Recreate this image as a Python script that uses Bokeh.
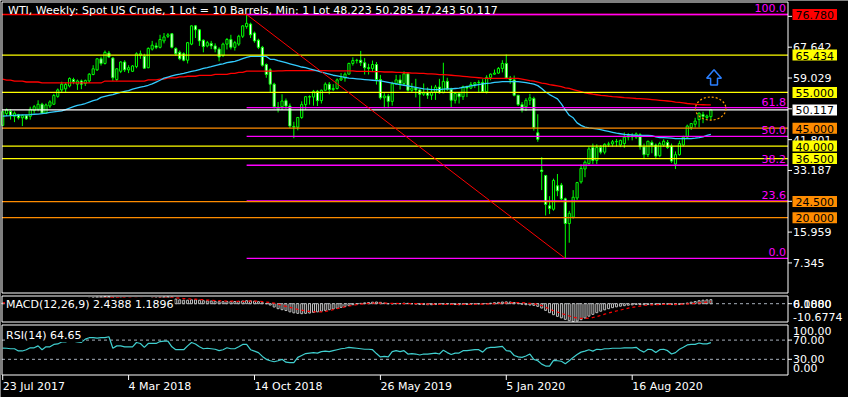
from bokeh.plotting import figure
from bokeh.models import Range1d, Label
from bokeh.embed import file_html
from bokeh.resources import INLINE

# ---------------- data ----------------
TITLE = "WTI, Weekly:  Spot US Crude, 1 Lot = 10 Barrels, Min: 1 Lot  48.223 50.285 47.243 50.117"
tick_idx = [0, 32, 64, 96, 128, 160]
tick_labels = ["23 Jul 2017", "4 Mar 2018", "14 Oct 2018", "26 May 2019", "5 Jan 2020", "16 Aug 2020"]

opens = [45.8, 49.1, 49.7, 48.3, 48.8, 47.9, 48.5, 48.3, 49.9, 50.3,
         51.7, 49.2, 51.2, 51.7, 53.9, 55.7, 56.0, 56.8, 58.6, 57.3,
         58.2, 57.5, 58.2, 60.0, 61.3, 64.4, 63.1, 66.0, 64.6, 58.6,
         60.9, 63.5, 61.3, 60.9, 62.2, 65.4, 65.1, 61.9, 67.1, 68.0,
         67.6, 69.4, 70.7, 71.4, 67.3, 66.2, 65.8, 64.0, 68.5, 73.6,
         72.5, 69.6, 68.0, 68.7, 68.0, 67.1, 65.3, 68.5, 69.8, 67.6,
         68.5, 70.7, 73.4, 74.1, 71.6, 69.6, 67.6, 62.8, 61.3, 57.3,
         50.4, 51.0, 52.7, 51.2, 45.5, 45.3, 48.0, 51.6, 53.8, 53.7,
         55.3, 52.7, 55.6, 57.3, 55.8, 56.1, 58.5, 59.0, 60.1, 63.1,
         63.9, 64.0, 63.3, 61.9, 61.7, 62.8, 58.6, 53.5, 54.0, 52.5,
         57.4, 58.5, 57.5, 60.2, 55.6, 56.2, 55.7, 54.5, 54.9, 54.2,
         55.1, 56.5, 54.9, 58.1, 55.9, 52.8, 54.7, 53.8, 56.6, 56.2,
         57.2, 57.7, 57.8, 55.2, 59.2, 60.1, 60.4, 61.7, 63.1, 59.0,
         58.5, 54.2, 51.6, 51.0, 52.8, 53.3, 43.7, 33.3, 31.8, 23.3,
         22.35, 28.9, 29.1, 25.25, 18.35, 20.15, 25.5, 30.0, 33.6, 35.1,
         39.6, 36.0, 39.6, 38.3, 40.5, 40.6, 41.2, 40.3, 40.7, 42.5,
         42.6, 42.5, 43.2, 39.8, 37.6, 41.0, 40.3, 37.3, 40.3, 41.0,
         40.0, 35.0, 37.6, 40.3, 42.5, 45.2, 46.1, 47.4, 48.8, 48.0, 48.223]
highs = [49.9, 50.5, 50.3, 49.7, 49.0, 48.8, 48.8, 51.0, 51.5, 52.8,
         52.1, 51.9, 52.8, 54.6, 56.1, 58.0, 57.7, 59.2, 59.1, 58.6,
         58.6, 58.6, 60.4, 62.6, 64.6, 65.0, 66.7, 66.6, 64.9, 61.75,
         63.7, 64.0, 62.6, 62.6, 66.2, 66.7, 65.8, 67.6, 69.4, 68.9,
         71.1, 71.6, 71.6, 71.6, 67.6, 66.7, 66.2, 69.1, 73.8, 73.8,
         72.7, 69.8, 69.4, 69.4, 68.7, 67.6, 68.9, 70.2, 71.1, 69.4,
         71.1, 73.8, 76.78, 74.5, 72.0, 70.0, 68.0, 63.1, 61.75, 57.7,
         52.3, 54.5, 53.3, 51.9, 46.8, 48.1, 52.5, 54.0, 54.2, 55.7,
         55.7, 55.8, 57.8, 57.9, 57.3, 58.9, 60.4, 60.6, 63.3, 64.8,
         64.4, 66.6, 64.6, 63.0, 63.9, 63.5, 59.9, 54.8, 54.6, 58.0,
         59.9, 59.9, 60.9, 60.6, 57.6, 58.8, 55.9, 57.5, 56.4, 56.9,
         57.1, 58.8, 63.3, 59.1, 56.3, 54.9, 54.9, 56.9, 56.9, 57.9,
         57.9, 58.4, 58.7, 59.8, 60.3, 61.4, 62.1, 64.0, 65.6, 59.6,
         59.7, 54.3, 52.3, 53.4, 54.6, 53.8, 48.9, 36.9, 31.9, 26.0,
         30.9, 32.2, 29.7, 25.6, 21.9, 27.7, 30.0, 34.9, 36.0, 39.8,
         40.7, 40.5, 40.3, 40.8, 41.2, 41.7, 42.0, 41.8, 43.8, 43.6,
         43.6, 43.8, 43.6, 40.7, 41.5, 41.6, 40.7, 41.2, 41.9, 41.7,
         40.7, 38.5, 41.5, 42.9, 46.0, 46.3, 47.9, 49.4, 49.6, 48.8, 50.285]
lows = [45.6, 48.4, 47.4, 46.7, 47.4, 45.6, 47.3, 47.4, 49.2, 49.7,
        49.0, 49.0, 50.6, 51.5, 53.5, 55.0, 55.0, 56.4, 57.3, 55.7,
        55.9, 56.8, 57.7, 59.8, 61.0, 62.5, 62.8, 64.6, 58.2, 58.2,
        60.4, 60.7, 60.4, 60.7, 61.75, 64.4, 61.6, 61.75, 66.7, 67.1,
        67.3, 68.7, 70.2, 67.3, 65.3, 64.0, 63.7, 63.1, 68.2, 70.2,
        68.0, 66.2, 67.6, 67.1, 66.2, 63.7, 64.9, 67.0, 67.0, 66.7,
        68.0, 70.2, 72.8, 70.2, 68.9, 67.1, 62.2, 59.1, 55.0, 50.5,
        49.4, 50.1, 50.4, 45.0, 42.2, 44.4, 47.6, 50.2, 51.6, 51.3,
        51.2, 51.9, 55.5, 54.5, 55.4, 55.8, 58.2, 58.0, 60.0, 62.5,
        63.1, 62.4, 60.0, 60.0, 60.8, 57.2, 53.0, 50.6, 50.6, 51.3,
        57.1, 55.8, 57.0, 55.2, 55.0, 53.6, 50.5, 54.0, 53.2, 52.9,
        52.9, 54.6, 54.8, 55.4, 50.9, 51.9, 51.9, 52.9, 53.7, 55.9,
        56.2, 55.1, 55.1, 54.7, 58.4, 59.9, 60.2, 60.6, 58.7, 57.4,
        53.9, 51.2, 49.4, 49.8, 51.5, 44.3, 41.2, 27.7, 20.6, 21.0,
        21.95, 26.0, 24.9, 8.6, 13.0, 19.7, 24.9, 29.5, 31.3, 34.9,
        35.0, 35.0, 37.7, 37.7, 39.8, 39.9, 39.9, 39.7, 39.5, 41.6,
        41.6, 42.0, 39.0, 36.6, 36.9, 38.0, 36.6, 36.9, 39.8, 39.2,
        35.3, 33.6, 37.3, 39.9, 42.2, 44.5, 45.2, 45.2, 46.4, 47.5, 47.243]
closes = [49.6, 50.1, 48.6, 49.2, 47.9, 48.5, 47.6, 50.3, 51.0, 51.7,
          49.2, 51.5, 52.35, 54.15, 55.7, 57.3, 57.2, 58.9, 58.0, 58.2,
          57.3, 58.3, 60.1, 61.6, 64.4, 63.1, 66.2, 64.9, 59.1, 61.6,
          63.5, 61.3, 61.9, 62.4, 65.8, 65.8, 61.75, 67.3, 68.2, 67.6,
          69.8, 70.5, 71.1, 67.6, 65.8, 64.4, 64.0, 68.9, 73.6, 72.5,
          69.4, 67.8, 68.9, 68.0, 67.1, 64.9, 68.5, 69.8, 67.6, 68.9,
          70.7, 73.6, 74.3, 71.1, 69.4, 67.6, 62.6, 60.0, 57.3, 51.0,
          50.9, 52.6, 51.2, 45.6, 45.3, 48.0, 51.6, 53.8, 53.7, 55.3,
          52.7, 55.6, 57.3, 55.8, 56.1, 58.5, 59.0, 60.1, 63.1, 63.9,
          64.0, 63.3, 61.9, 61.7, 62.8, 58.6, 53.5, 54.0, 52.5, 57.4,
          58.5, 57.5, 60.2, 55.6, 56.2, 55.7, 54.5, 54.9, 54.2, 55.1,
          56.5, 54.9, 58.1, 55.9, 52.8, 54.7, 53.8, 56.6, 56.2, 57.2,
          57.7, 57.8, 55.2, 59.2, 60.1, 60.4, 61.7, 63.1, 59.0, 58.5,
          54.2, 51.6, 50.3, 52.8, 53.5, 45.2, 41.9, 32.9, 23.7, 22.6,
          30.4, 27.5, 25.25, 18.35, 21.2, 25.7, 29.8, 33.75, 35.5, 39.2,
          36.0, 39.6, 38.3, 40.5, 40.6, 41.2, 41.3, 41.6, 42.5, 42.96,
          42.96, 43.4, 39.8, 37.6, 41.35, 40.1, 37.2, 40.7, 41.35, 39.6,
          35.8, 37.6, 40.7, 42.5, 45.6, 46.3, 47.0, 49.2, 48.3, 48.4, 50.117]

ma_red = [58.72, 58.45, 58.45, 58.18, 58.18, 58.18, 57.91, 57.91, 57.91, 57.91,
          57.64, 57.64, 57.64, 57.64, 57.64, 57.64, 57.64, 57.64, 57.64, 57.64,
          57.64, 57.64, 57.64, 57.64, 57.64, 57.64, 58.18, 58.18, 58.18, 58.18,
          58.18, 58.18, 58.18, 58.18, 58.18, 58.18, 58.18, 58.53, 58.53, 58.53,
          58.72, 58.72, 59.07, 59.07, 59.07, 59.34, 59.34, 59.52, 59.52, 59.52,
          59.79, 59.79, 59.79, 59.79, 60.06, 60.06, 60.06, 60.06, 60.33, 60.33,
          60.6, 60.6, 60.95, 60.95, 60.95, 60.95, 60.95, 60.95, 60.95, 60.95,
          61.0, 61.0, 61.1, 61.1, 61.1, 61.1, 61.1, 61.1, 61.1, 61.1,
          61.1, 61.1, 61.1, 61.0, 61.0, 61.0, 61.0, 61.0, 61.0, 61.0,
          60.9, 60.9, 60.9, 60.9, 60.8, 60.8, 60.8, 60.7, 60.7, 60.7,
          60.6, 60.6, 60.5, 60.5, 60.4, 60.4, 60.3, 60.3, 60.2, 60.2,
          60.1, 60.0, 60.0, 59.9, 59.8, 59.7, 59.6, 59.5, 59.4, 59.3,
          59.2, 59.1, 59.0, 58.95, 58.9, 58.9, 58.9, 58.9, 58.9, 58.9,
          58.9, 58.9, 58.7, 58.5, 58.3, 58.18, 57.9, 57.6, 57.45, 57.2,
          57.0, 56.8, 56.6, 56.3, 56.1, 55.8, 55.5, 55.2, 54.9, 54.7,
          54.5, 54.35, 54.2, 54.1, 53.97, 53.85, 53.75, 53.65, 53.55, 53.5,
          53.4, 53.3, 53.25, 53.2, 53.1, 53.0, 52.9, 52.8, 52.7, 52.6,
          52.5, 52.3, 52.2, 52.05, 51.9, 51.8, 51.7, 51.6, 51.55, 51.5, 51.5]
ma_cyan = [48.35, 48.45, 48.52, 48.6, 48.65, 48.7, 48.75, 48.79, 48.9, 48.95,
           49.06, 49.2, 49.4, 49.55, 49.7, 49.86, 50.2, 50.6, 51.0, 51.4,
           51.6, 51.9, 52.3, 52.7, 53.0, 53.6, 53.9, 54.16, 54.4, 54.7,
           55.0, 55.3, 55.5, 55.9, 56.2, 56.5, 56.7, 57.0, 57.4, 57.9,
           58.4, 59.0, 59.3, 59.6, 59.9, 60.1, 60.33, 60.6, 60.9, 61.1,
           61.4, 61.7, 61.94, 62.2, 62.5, 62.8, 63.0, 63.3, 63.5, 63.7,
           64.0, 64.44, 64.8, 65.05, 65.05, 65.05, 65.05, 65.05, 64.25, 64.25,
           63.9, 63.6, 63.3, 63.0, 62.7, 62.4, 62.1, 61.9, 61.6, 61.3,
           61.0, 60.7, 60.4, 60.1, 59.8, 59.6, 59.4, 59.2, 59.0, 58.9,
           58.8, 58.7, 58.6, 58.5, 58.4, 58.3, 58.2, 58.0, 57.8, 57.6,
           57.4, 57.2, 57.0, 56.8, 56.6, 56.4, 56.2, 56.0, 55.9, 55.8,
           55.8, 55.8, 55.9, 56.0, 56.0, 56.1, 56.2, 56.4, 56.6, 56.8,
           57.0, 57.2, 57.4, 57.5, 57.6, 57.8, 57.9, 58.0, 58.0, 58.0,
           58.0, 58.0, 57.9, 57.73, 57.5, 57.3, 56.9, 56.1, 55.1, 54.4,
           53.8, 53.2, 51.8, 50.1, 48.6, 47.9, 46.5, 45.8, 45.3, 45.1,
           44.95, 44.8, 44.6, 44.35, 44.1, 43.85, 43.6, 43.45, 43.3, 43.2,
           43.1, 43.0, 43.0, 43.0, 43.0, 42.9, 42.6, 42.4, 42.35, 42.3,
           42.2, 42.1, 42.1, 42.1, 42.1, 42.1, 42.2, 42.35, 42.6, 43.0, 43.3]

macd_main = [0.3, 0.3, 0.2, 0.2, 0.1, 0.0, 0.0, 0.1, 0.3, 0.5,
             0.6, 0.8, 1.0, 1.3, 1.6, 2.0, 2.3, 2.6, 2.8, 2.9,
             3.0, 3.1, 3.3, 3.6, 3.9, 4.0, 4.2, 4.2, 3.8, 3.5,
             3.4, 3.2, 3.0, 2.9, 3.0, 3.1, 2.9, 3.1, 3.4, 3.5,
             3.8, 4.0, 4.1, 3.9, 2.8, 2.3, 2.1, 2.1, 2.3, 2.3,
             2.1, 1.8, 1.7, 1.6, 1.4, 1.2, 1.2, 1.3, 1.3, 1.3,
             1.4, 1.6, 1.8, 1.7, 1.5, 1.2, 0.6, 0.0, -0.8, -2.0,
             -3.0, -3.6, -4.1, -4.9, -5.5, -5.8, -6.0, -5.8, -5.6, -5.2,
             -4.9, -4.5, -4.0, -3.6, -3.2, -2.7, -2.2, -1.7, -1.1, -0.6,
             -0.2, 0.2, 0.5, 0.7, 0.9, 1.0, 0.8, 0.4, 0.0, -0.1,
             0.0, 0.1, 0.3, 0.2, 0.0, -0.2, -0.4, -0.5, -0.6, -0.6,
             -0.5, -0.4, -0.2, -0.2, -0.4, -0.5, -0.6, -0.5, -0.4, -0.3,
             -0.2, -0.1, -0.1, 0.1, 0.3, 0.6, 0.8, 1.0, 1.1, 1.0,
             0.7, 0.2, -0.3, -0.6, -0.8, -1.0, -1.6, -2.6, -4.0, -5.4,
             -6.6, -7.6, -8.5, -9.4, -10.2, -10.68, -10.4, -9.6, -8.6, -7.5,
             -6.4, -5.4, -4.5, -3.7, -3.0, -2.4, -1.9, -1.5, -1.2, -0.9,
             -0.7, -0.5, -0.5, -0.6, -0.5, -0.4, -0.5, -0.4, -0.3, -0.3,
             -0.5, -0.6, -0.4, -0.1, 0.4, 0.9, 1.3, 1.8, 2.1, 2.3, 2.4388]
macd_signal = [0.5, 0.45, 0.4, 0.35, 0.3, 0.25, 0.2, 0.2, 0.2, 0.25,
               0.3, 0.4, 0.5, 0.65, 0.8, 1.0, 1.3, 1.5, 1.8, 2.0,
               2.2, 2.4, 2.6, 2.8, 3.0, 3.2, 3.4, 3.6, 3.6, 3.6,
               3.5, 3.5, 3.4, 3.3, 3.2, 3.2, 3.1, 3.1, 3.2, 3.2,
               3.3, 3.4, 3.5, 3.6, 3.5, 3.3, 3.1, 2.9, 2.8, 2.7,
               2.5, 2.4, 2.2, 2.1, 1.9, 1.8, 1.7, 1.6, 1.5, 1.5,
               1.4, 1.4, 1.5, 1.5, 1.5, 1.5, 1.3, 1.0, 0.7, 0.3,
               -0.3, -1.0, -1.6, -2.2, -2.8, -3.4, -3.9, -4.3, -4.6, -4.8,
               -4.9, -4.9, -4.7, -4.2, -3.6, -3.0, -2.4, -1.9, -1.4, -1.0,
               -0.6, -0.3, 0.0, 0.2, 0.3, 0.4, 0.4, 0.35, 0.3, 0.2,
               0.15, 0.1, 0.1, 0.1, 0.1, 0.05, 0.0, -0.1, -0.2, -0.3,
               -0.35, -0.4, -0.4, -0.35, -0.35, -0.4, -0.4, -0.45, -0.45, -0.4,
               -0.35, -0.3, -0.25, -0.2, -0.1, 0.0, 0.2, 0.3, 0.5, 0.6,
               0.7, 0.7, 0.6, 0.4, 0.2, -0.1, -0.5, -1.1, -2.1, -3.3,
               -4.2, -5.0, -5.8, -6.6, -7.4, -8.1, -8.6, -8.8, -8.8, -8.6,
               -8.3, -7.7, -7.0, -6.3, -5.6, -5.0, -4.4, -3.8, -3.2, -2.7,
               -2.2, -1.8, -1.4, -1.1, -0.9, -0.7, -0.6, -0.5, -0.45, -0.4,
               -0.4, -0.4, -0.35, -0.3, -0.15, 0.05, 0.25, 0.5, 0.7, 0.95, 1.1896]
rsi = [53.4, 53.0, 52, 52, 47.4, 47.4, 50, 54, 54, 58,
       50, 56, 56, 61, 62, 66, 66, 70, 68, 66,
       65.4, 72, 75, 75, 74, 75, 75, 77, 53, 58,
       58, 56, 56, 56, 65, 63, 55, 63, 63, 63,
       67, 68, 68, 56, 50, 50, 50, 58, 65, 62,
       56, 52, 53, 52, 51, 48, 50, 54, 52, 52,
       56, 61, 61, 50, 47, 44, 36, 30, 27, 25,
       27, 30, 24, 23, 23, 34, 38, 42, 43, 44,
       43, 46, 47, 46, 48, 50, 52, 53, 55, 54,
       53, 52, 51, 51, 50, 42, 35, 36, 35, 46,
       48, 46, 48, 41, 42, 41, 39, 41, 41, 42,
       43, 41, 49, 44, 40, 43, 43, 48, 48, 49,
       50, 50, 45, 53, 55, 55, 56, 57, 48, 47,
       38, 35, 34, 37, 41, 30, 27, 20, 16, 16,
       28, 27, 26, 21, 27, 34, 40, 45, 47, 50,
       47, 51, 50, 52, 52, 53, 53, 53, 54, 54,
       54, 55, 49, 45, 51, 50, 44, 50, 51, 48,
       41, 44, 51, 55, 60, 61, 61, 64, 62, 62, 64.65]

price_ticks = [7.345, 15.959, 24.573, 33.187, 41.801, 50.415, 59.029, 67.642, 76.257]
level_prices = [76.780, 65.434, 55.000, 50.117, 45.000, 40.000, 36.500, 24.500, 20.000]
level_colors = ["#FF0000", "#FFFF00", "#FFFF00", "#FFFFFF", "#FF8C00",
                "#FFFF00", "#FFFF00", "#FF8C00", "#FF8C00"]
fib_levels = [100.0, 61.8, 50.0, 38.2, 23.6, 0.0]
fib_idx = [62, 143]
fib_price = [76.78, 8.6]
macd_text = "MACD(12,26,9) 2.4388 1.1896"
rsi_text = "RSI(14) 64.65"
macd_ticks = [0]
macd_scale = [("6.1880", 0.0), ("0.0000", 0.0), ("-10.6774", -8.1)]
rsi_levels = [70, 30]
rsi_scale = [("100.00", 88.0), ("70.00", 70.0), ("30.00", 31.0), ("0.00", 12.0)]

# ---------------- drawing objects ----------------
ELLIPSE = dict(x=179.95, y=50.48, w=7.75, h=6.44)
ARROW_TIP = (180.8, 61.35)
ARROW_BASE_Y = 58.93
ARROW_BOTTOM_Y = 57.06

# ---------------- style / layout (pixels of the canvas) ----------------
FONT = "DejaVu Sans"
FS = "11px"
GREEN = "#00FF00"
CYAN = "#33CCFF"
RSI_C = "#40D0D0"
GRID = "#A8B0BC"
LW = 1.3
W, H = 848, 397
PL, PR = 1.5, 787.5
MAIN_PX = (1.5, 292.5)
MACD_PX = (295.5, 321.5)
RSI_PX = (324.5, 374.5)
X0, X1 = -0.175, 199.6
MAIN_Y = (-1.06, 80.27)
MACD_Y = (-10.98, 4.62)
RSI_Y = (-2.6, 101.4)

kx = (PR - PL) / (X1 - X0)


def panel_range(vals, px):
    vb, vt = vals
    pt, pb = px
    u = (vt - vb) / (pb - pt)
    return Range1d(start=vb - (H - pb) * u, end=vt + pt * u)


p = figure(width=W, height=H, output_backend="svg", toolbar_location=None,
           x_axis_location=None, y_axis_location=None, min_border=0,
           x_range=Range1d(X0 - PL / kx, X1 + (W - PR) / kx),
           y_range=panel_range(MAIN_Y, MAIN_PX),
           background_fill_color="black", border_fill_color="black",
           outline_line_color=None)
p.grid.visible = False
p.extra_y_ranges = {"macd": panel_range(MACD_Y, MACD_PX),
                    "rsi": panel_range(RSI_Y, RSI_PX),
                    "px": Range1d(start=H, end=0)}
p.extra_x_ranges = {"px": Range1d(start=0, end=W)}


def lbl(**kw):
    base = dict(text_font=FONT, text_font_size=FS, text_color="white",
                text_align="left", text_baseline="middle")
    base.update(kw)
    p.add_layout(Label(**base))


# ---------- main price panel ----------
n = len(closes)
idx = list(range(n))
p.segment(x0=idx, y0=highs, x1=idx, y1=lows, line_color=GREEN, line_width=1)
p.vbar(x=idx, width=0.55,
       top=[max(a, b) for a, b in zip(opens, closes)],
       bottom=[min(a, b) for a, b in zip(opens, closes)],
       fill_color=["black" if c >= o else "white" for o, c in zip(opens, closes)],
       line_color=GREEN, line_width=1)

p.line(idx, ma_red, line_color="#FF0000", line_width=LW)
p.line(idx, ma_cyan, line_color=CYAN, line_width=LW)

p.segment(x0=[X0], y0=[level_prices[0]], x1=[X1], y1=[level_prices[0]],
          line_color=level_colors[0], line_width=LW)
fib_lo, fib_hi = fib_price[1], fib_price[0]
fib_vals = [fib_lo + (fib_hi - fib_lo) * lv / 100.0 for lv in fib_levels]
p.segment(x0=[fib_idx[0]] * len(fib_vals), y0=fib_vals,
          x1=[X1] * len(fib_vals), y1=fib_vals, line_color="#FF00FF", line_width=LW)
p.segment(x0=[X0] * (len(level_prices) - 1), y0=level_prices[1:],
          x1=[X1] * (len(level_prices) - 1), y1=level_prices[1:],
          line_color=level_colors[1:], line_width=LW)
p.line(fib_idx, fib_price, line_color="#FF0000", line_width=1)

p.ellipse(x=[ELLIPSE["x"]], y=[ELLIPSE["y"]], width=[ELLIPSE["w"]], height=[ELLIPSE["h"]],
          fill_color=None, line_color="#FF9A00", line_dash="2 2", line_width=1.2)
tx, ty = ARROW_TIP
p.patch([tx, tx + 1.875, tx + 0.875, tx + 0.875, tx - 0.875, tx - 0.875, tx - 1.875],
        [ty, ARROW_BASE_Y, ARROW_BASE_Y, ARROW_BOTTOM_Y, ARROW_BOTTOM_Y, ARROW_BASE_Y, ARROW_BASE_Y],
        fill_color="black", line_color="#2A7FFF", line_width=1.5)

for lv, v in zip(fib_levels, fib_vals):
    lbl(x=PR - 2, x_range_name="px", y=v, y_offset=2, text=f"{lv:.1f}",
        text_align="right", text_baseline="bottom", text_color="#FF00FF")

# right price scale ticks and labels
p.segment(x0=[PR] * len(price_ticks), y0=price_ticks, x1=[PR + 4] * len(price_ticks),
          y1=price_ticks, x_range_name="px", line_color="white", line_width=1)
for t in price_ticks:
    lbl(x=PR + 5, x_range_name="px", y=t, text=f"{t:.3f}")
for pr, col in zip(level_prices, level_colors):
    lbl(x=PR + 4.5, x_range_name="px", y=pr, text=f"{pr:.3f}", text_color="black",
        background_fill_color=col, padding=dict(left=3, right=3, top=2, bottom=1))

lbl(x=PL + 6, x_range_name="px", y=3, y_range_name="px", text=TITLE, text_baseline="top")

# ---------- MACD panel ----------
p.segment(x0=[X0], y0=[0], x1=[X1], y1=[0], y_range_name="macd",
          line_color=GRID, line_dash="3 3", line_width=1)
p.vbar(x=idx, width=0.5, top=macd_main, bottom=0, y_range_name="macd",
       fill_color="black", line_color="#C0C0C0", line_width=1)
p.line(idx, macd_signal, y_range_name="macd", line_color="#FF0000", line_dash="3 3", line_width=1.2)
p.segment(x0=[PR] * len(macd_ticks), y0=macd_ticks, x1=[PR + 4] * len(macd_ticks), y1=macd_ticks,
          x_range_name="px", y_range_name="macd", line_color="white", line_width=1)
lbl(x=PL + 3, x_range_name="px", y=-0.3, y_range_name="macd", text=macd_text,
    background_fill_color="black", padding=dict(left=1, right=1, top=0, bottom=0))
for t, v in macd_scale:
    lbl(x=PR + 5, x_range_name="px", y=v, y_range_name="macd", text=t)

# ---------- RSI panel ----------
p.segment(x0=[X0] * len(rsi_levels), y0=rsi_levels, x1=[X1] * len(rsi_levels), y1=rsi_levels,
          y_range_name="rsi", line_color=GRID, line_dash="3 3", line_width=1)
p.line(idx, rsi, y_range_name="rsi", line_color=RSI_C, line_width=1.2)
p.segment(x0=[PR] * len(rsi_levels), y0=rsi_levels, x1=[PR + 4] * len(rsi_levels), y1=rsi_levels,
          x_range_name="px", y_range_name="rsi", line_color="white", line_width=1)
lbl(x=PL + 3, x_range_name="px", y=79.4, y_range_name="rsi", text=rsi_text,
    background_fill_color="black", padding=dict(left=1, right=1, top=0, bottom=0))
for t, v in rsi_scale:
    lbl(x=PR + 5, x_range_name="px", y=v, y_range_name="rsi", text=t)

# time axis: ticks below the RSI panel, labels starting at each tick
p.segment(x0=tick_idx, y0=[RSI_PX[1]] * len(tick_idx), x1=tick_idx,
          y1=[RSI_PX[1] + 5] * len(tick_idx), y_range_name="px", line_color="white", line_width=1)
for t, s in zip(tick_idx, tick_labels):
    lbl(x=t, y=RSI_PX[1] + 11, y_range_name="px", text=s)

# panel frames
for top, bot in (MAIN_PX, MACD_PX, RSI_PX):
    p.quad(left=[PL], right=[PR], top=[top], bottom=[bot], x_range_name="px", y_range_name="px",
           fill_color=None, line_color="white", line_width=1)

open("out.html", "w").write(file_html(p, INLINE))
